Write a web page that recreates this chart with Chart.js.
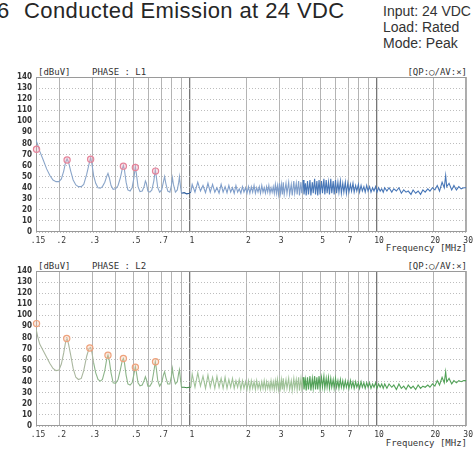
<!DOCTYPE html>
<html>
<head>
<meta charset="utf-8">
<script src="https://cdn.jsdelivr.net/npm/chart.js@4.4.1/dist/chart.umd.min.js"></script>
<style>
  html, body { margin: 0; padding: 0; background: #fff; }
  body { width: 475px; height: 452px; position: relative; overflow: hidden; font-family: "Liberation Sans", Arial, sans-serif; }
  .txt { position: absolute; white-space: nowrap; }
  .title { font-size: 22px; line-height: 26px; color: #262626; top: -2px; letter-spacing: 0.4px; }
  .info { left: 383px; top: 3px; font-size: 14px; line-height: 16px; color: #333; }
  .hdr { font-family: "DejaVu Sans Mono", monospace; font-size: 9px; line-height: 10px; color: #333; }
  canvas { position: absolute; left: 0; }
</style>
</head>
<body>
  <div class="txt title" style="left:-3px">6</div>
  <div class="txt title" style="left:24px">Conducted Emission at 24 VDC</div>
  <div class="txt info">Input: 24 VDC<br>Load: Rated<br>Mode: Peak</div>

  <div class="txt hdr" style="left:38px;top:67px">[dBuV]</div>
  <div class="txt hdr" style="left:92px;top:67px">PHASE : L1</div>
  <div class="txt hdr" style="right:8px;top:67px">[QP:○/AV:×]</div>
  <div class="txt hdr" style="right:8px;top:243px">Frequency [MHz]</div>

  <div class="txt hdr" style="left:38px;top:261px">[dBuV]</div>
  <div class="txt hdr" style="left:92px;top:261px">PHASE : L2</div>
  <div class="txt hdr" style="right:8px;top:261px">[QP:○/AV:×]</div>
  <div class="txt hdr" style="right:8px;top:438px">Frequency [MHz]</div>

  <canvas id="chartL1" width="475" height="190" style="top:62px"></canvas>
  <canvas id="chartL2" width="475" height="190" style="top:256px"></canvas>

<script>
  // ── Data ──────────────────────────────────────────────────────
  const freqMHz = [
    0.150, 0.153, 0.157, 0.164, 0.171, 0.178, 0.185, 0.192, 0.199, 0.205,
    0.211, 0.216, 0.220, 0.224, 0.230, 0.237, 0.245, 0.253, 0.262, 0.270,
    0.280, 0.288, 0.294, 0.299, 0.305, 0.313, 0.322, 0.331, 0.340, 0.350,
    0.358, 0.364, 0.370, 0.378, 0.388, 0.400, 0.412, 0.424, 0.434, 0.440,
    0.446, 0.455, 0.465, 0.478, 0.490, 0.500, 0.510, 0.517, 0.527, 0.540,
    0.555, 0.568, 0.577, 0.584, 0.595, 0.610, 0.625, 0.640, 0.652, 0.660,
    0.672, 0.688, 0.705, 0.720, 0.731, 0.742, 0.760, 0.780, 0.795, 0.805,
    0.815, 0.835, 0.855, 0.870, 0.878, 0.888, 0.900, 0.930, 0.960, 0.990,
    1.010, 1.027, 1.063, 1.100, 1.137, 1.173, 1.210, 1.247, 1.283, 1.320,
    1.357, 1.393, 1.430, 1.467, 1.503, 1.540, 1.577, 1.613, 1.650, 1.687,
    1.723, 1.760, 1.797, 1.833, 1.870, 1.907, 1.943, 1.980, 2.017, 2.053,
    2.090, 2.127, 2.163, 2.200, 2.237, 2.273, 2.310, 2.347, 2.383, 2.420,
    2.457, 2.493, 2.530, 2.567, 2.603, 2.640, 2.677, 2.713, 2.750, 2.787,
    2.823, 2.860, 2.897, 2.933, 2.970, 3.007, 3.043, 3.080, 3.117, 3.153,
    3.19, 3.26, 3.30, 3.37, 3.41, 3.48, 3.52, 3.59, 3.63, 3.70,
    3.74, 3.81, 3.85, 3.92, 3.96, 4.03, 4.07, 4.14, 4.18, 4.25,
    4.30, 4.38, 4.43, 4.51, 4.56, 4.64, 4.69, 4.77, 4.82, 4.90,
    4.96, 5.05, 5.11, 5.20, 5.26, 5.35, 5.41, 5.50, 5.57, 5.66,
    5.73, 5.83, 5.90, 6.00, 6.08, 6.18, 6.26, 6.37, 6.45, 6.56,
    6.65, 6.77, 6.86, 6.98, 7.08, 7.21, 7.31, 7.44, 7.55, 7.69,
    7.80, 7.95, 8.07, 8.22, 8.35, 8.51, 8.65, 8.81, 8.96, 9.13,
    9.29, 9.47, 9.64, 9.83, 10.0, 10.2, 10.4, 10.6, 10.8, 11.0,
    11.3, 11.6, 12.0, 12.3, 12.7, 13.1, 13.5, 13.9, 14.3, 14.7,
    15.2, 15.6, 16.1, 16.6, 17.1, 17.6, 18.1, 18.7, 19.2, 19.8,
    20.4, 21.0, 21.6, 22.3, 22.9, 23.3, 23.6, 24.3, 25.1, 25.8,
    26.6, 27.4, 28.2, 29.1, 30.0
  ];

  const l1dB = [
    83, 79, 73, 65, 57, 51, 47, 45.5, 45.5, 48,
    55, 63, 66, 63, 55, 47, 42.5, 41, 41, 43,
    52, 61, 67, 61, 51, 44, 40, 39.5, 41, 45,
    50, 53, 49, 42, 38.5, 39, 42, 49, 57, 60,
    56, 45, 38, 37, 40, 48, 59, 52, 41, 36.5,
    37, 41, 46, 44, 37, 36, 38, 46, 56, 50,
    40, 36, 38, 45, 50, 44, 37, 36, 42, 49,
    43, 36, 38, 45, 50, 42, 35, 35.5, 34.5, 35,
    36, 43, 36, 45, 37, 42, 35.5, 44, 36, 43,
    36, 40, 35, 43, 36, 41, 35.5, 42, 36, 40,
    35, 42, 36, 39, 35, 41, 36, 40, 35, 41,
    35, 41, 36, 42, 35, 40, 36, 41, 35, 42,
    36, 40, 35, 41, 36, 42, 35, 40, 36, 41,
    35, 43, 35, 42, 34, 44, 35, 43, 34, 45,
    34, 44, 35, 45, 34, 43, 33, 46, 35, 44,
    34, 46, 33, 45, 35, 47, 34, 44, 33, 46,
    34, 47, 33, 45, 35, 48, 34, 46, 33, 47,
    34, 46, 35, 48, 34, 47, 35, 45, 34, 48,
    35, 46, 34, 47, 35, 45, 36, 46, 35, 44,
    36, 45, 35, 44, 36, 43, 37, 44, 36, 42,
    37, 43, 36, 42, 37, 41, 36, 42, 37, 41,
    36, 40, 37, 41, 36, 40, 37, 39, 36, 40,
    37, 40, 36, 39, 37, 40, 35, 38, 36, 37,
    34, 38, 35, 37, 34, 38, 36, 39, 37, 40,
    38, 42, 37, 45, 40, 51, 41, 44, 38, 42,
    38, 41, 39, 40, 40
  ];

  const l2dB = [
    88, 81, 74, 68, 62, 56.5, 52, 50, 50.5, 56,
    66, 76, 79, 74, 64, 52, 44, 42, 43, 50,
    63, 70, 71, 66, 57, 48, 42, 40.5, 42, 50,
    60, 64, 59, 48, 39, 38.5, 42, 51, 59, 61,
    57, 46, 38, 37, 39, 46, 53.5, 48, 39, 36.3,
    37, 41, 44.5, 42, 36, 36, 39, 49, 58, 52,
    41, 36, 39, 46, 49, 44, 38, 38, 45, 52,
    45, 38, 40, 48, 51, 43, 35, 35, 34.5, 35,
    35, 47, 35, 48, 36, 45, 34, 46, 35, 44,
    34, 45, 35, 43, 34, 44, 34, 42, 35, 43,
    34, 41, 35, 42, 33, 41, 34, 40, 33, 41,
    33, 41, 34, 40, 33, 41, 34, 39, 33, 40,
    34, 41, 33, 40, 34, 39, 33, 41, 34, 40,
    33, 41, 34, 42, 33, 41, 34, 42, 33, 43,
    33, 42, 34, 43, 33, 41, 32, 43, 34, 42,
    33, 44, 32, 43, 34, 44, 33, 42, 32, 44,
    33, 45, 32, 43, 34, 45, 33, 44, 33, 45,
    34, 44, 35, 45, 34, 43, 35, 44, 34, 43,
    35, 42, 34, 43, 35, 41, 34, 42, 35, 41,
    34, 41, 35, 40, 34, 41, 35, 40, 34, 40,
    35, 39, 34, 40, 35, 39, 34, 39, 35, 39,
    34, 38, 35, 39, 34, 38, 35, 38, 34, 38,
    34, 38, 35, 37, 33, 38, 34, 36, 33, 37,
    34, 36, 33, 37, 34, 36, 35, 37, 35, 38,
    36, 41, 37, 44, 39, 49, 40, 43, 38, 41,
    39, 41, 40, 41, 41
  ];

  // QP markers
  const l1QpFreq = [0.151, 0.220, 0.294, 0.440, 0.510, 0.654];
  const l1QpdB   = [74.8, 65, 65.8, 59.5, 58.3, 55];
  const l2QpFreq = [0.151, 0.219, 0.291, 0.364, 0.440, 0.510, 0.654];
  const l2QpdB   = [92.5, 79, 70.5, 64, 61, 53, 58];

  const xTickValues = [0.15, 0.2, 0.3, 0.4, 0.5, 0.6, 0.7, 0.8, 0.9, 1, 2, 3, 4, 5, 6, 7, 8, 9, 10, 20, 30];
  const xTickLabels = ['.15', '.2', '.3', '', '.5', '', '.7', '', '', '1', '2', '3', '', '5', '', '7', '', '', '10', '20', '30'];

  // ── Chart setup ──────────────────────────────────────────────
  Chart.defaults.font.family = '"DejaVu Sans Mono", monospace';
  Chart.defaults.color = '#333';

  const framePlugin = {
    id: 'frame',
    beforeDatasetsDraw(chart) {
      const { ctx, chartArea: a } = chart;
      ctx.save();
      ctx.strokeStyle = '#9a9a9a';
      ctx.lineWidth = 1;
      ctx.strokeRect(a.left + 0.5, a.top + 0.5, a.right - a.left - 1, a.bottom - a.top - 1);
      ctx.restore();
    }
  };

  function makeChart(id, levels, qpF, qpV, qpColor, qpFill, colorFor) {
    return new Chart(document.getElementById(id), {
      type: 'line',
      data: {
        datasets: [
          {
            data: qpF.map((f, i) => ({ x: f, y: qpV[i] })),
            showLine: false, clip: false, pointStyle: 'circle', pointRadius: 3.1,
            pointBorderColor: qpColor, pointBackgroundColor: qpFill, pointBorderWidth: 1.2
          },
          {
            data: freqMHz.map((f, i) => ({ x: f, y: levels[i] })),
            borderColor: colorFor(2), borderWidth: 1.1, pointRadius: 0, tension: 0,
            segment: { borderColor: c => colorFor(c.p0.parsed.x) }
          }
        ]
      },
      options: {
        responsive: false, animation: false, devicePixelRatio: 1,
        layout: { padding: { top: 15, right: 7, left: 0, bottom: 0 } },
        plugins: { legend: { display: false }, tooltip: { enabled: false } },
        scales: {
          x: {
            type: 'logarithmic', min: 0.15, max: 30,
            afterBuildTicks: s => { s.ticks = xTickValues.map(v => ({ value: v })); },
            afterFit: s => { s.height = 20; },
            ticks: { autoSkip: false, maxRotation: 0, minRotation: 0, padding: 4, labelOffset: 2,
                     font: { size: 8 }, callback: (v, i) => xTickLabels[i] },
            grid: { drawTicks: false,
                    color: c => (c.tick && (c.tick.value === 1 || c.tick.value === 10)) ? '#767676' : '#b4b4b4',
                    lineWidth: c => (c.tick && (c.tick.value === 1 || c.tick.value === 10)) ? 1.3 : 1 },
            border: { display: false }
          },
          y: {
            min: 0, max: 140,
            afterFit: s => { s.width = 36; },
            ticks: { stepSize: 10, padding: 4, autoSkip: false,
                     font: { size: 8, weight: 'bold', family: '"Liberation Sans Narrow", "DejaVu Sans Condensed", "Liberation Sans", sans-serif' } },
            grid: { drawTicks: false, color: '#bdbdbd' },
            border: { display: false, dash: [1, 2] }
          }
        }
      },
      plugins: [framePlugin]
    });
  }

  makeChart('chartL1', l1dB, l1QpFreq, l1QpdB, '#e5849a', 'rgba(240,170,185,0.35)',
    x => x < 0.9 ? '#8aa5c9' : x < 1.0 ? '#2e5d9d' : x < 4 ? '#7f9ecb' : '#4877b8');
  makeChart('chartL2', l2dB, l2QpFreq, l2QpdB, '#eea27c', 'rgba(245,195,165,0.35)',
    x => x < 0.3 ? '#aab79f' : x < 0.9 ? '#8db58a' : x < 1.0 ? '#3f8c46' : x < 4 ? '#9fc298' : '#52a258');
</script>
</body>
</html>
